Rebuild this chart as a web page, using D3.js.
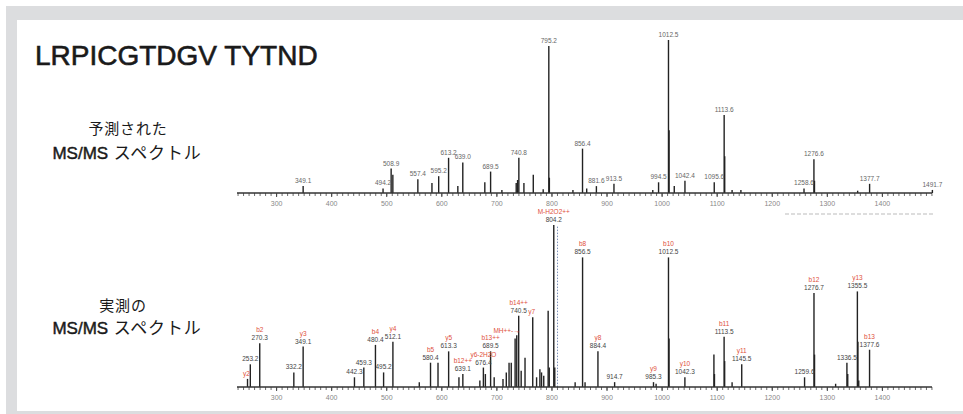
<!DOCTYPE html>
<html>
<head>
<meta charset="utf-8">
<script src="https://cdn.jsdelivr.net/npm/d3@7"></script>
<style>
  body { margin: 0; background: #fff; }
  svg { display: block; }
</style>
</head>
<body>
<div id="chart"></div>
<script>
// predicted spectrum: [m/z, relative intensity, label]
const predictedPeaks = [
  [349.1, 4.5, "349.1"], [494.2, 3, "494.2"], [508.9, 16, "508.9"], [512.0, 12, ""],
  [557.4, 9, "557.4"], [583.0, 6.5, ""], [595.2, 11, "595.2"], [613.2, 23, "613.2"],
  [630.0, 4.5, ""], [639.0, 20, "639.0"], [679.0, 7, ""], [689.5, 14, "689.5"],
  [710.0, 2, ""], [736.0, 6.5, ""], [738.5, 8.5, ""], [740.8, 23, "740.8"],
  [750.0, 6.5, ""], [767.0, 12, ""], [785.0, 2.5, ""], [795.2, 96, "795.2"],
  [796.2, 10, ""], [839.0, 2, ""], [856.4, 29, "856.4"], [864.0, 3, ""],
  [881.6, 4.5, "881.6"], [913.5, 6, "913.5"], [984.0, 2, ""], [994.5, 7, "994.5"],
  [1012.5, 100, "1012.5"], [1013.6, 41, ""], [1023.0, 4.5, ""], [1042.4, 8, "1042.4"],
  [1095.6, 7, "1095.6"], [1113.6, 51, "1113.6"], [1114.6, 24, ""], [1128.0, 2, ""],
  [1144.0, 2, ""], [1258.6, 3, "1258.6"], [1276.6, 22, "1276.6"], [1277.6, 8, ""],
  [1356.0, 1.5, ""], [1377.7, 6, "1377.7"], [1491.7, 2, "1491.7"]
];

// observed spectrum: [m/z, relative intensity, m/z label, ion label]
const observedPeaks = [
  [248.1, 5, "", "y2"], [253.2, 14, "253.2", ""], [270.3, 27, "270.3", "b2"],
  [332.2, 9, "332.2", ""], [349.1, 25, "349.1", "y3"], [442.3, 6, "442.3", ""],
  [459.3, 12, "459.3", ""], [480.4, 26, "480.4", "b4"], [495.2, 9, "495.2", ""],
  [512.1, 28, "512.1", "y4"], [560.0, 3, "", ""], [580.4, 15, "580.4", "b5"],
  [594.0, 15, "", ""], [613.3, 22, "613.3", "y5"], [632.0, 6, "", ""],
  [639.1, 8, "639.1", "b12++"], [670.0, 4, "", ""], [676.4, 12, "676.4", "y6-2H2O"],
  [680.0, 8, "", ""], [689.5, 22, "689.5", "b13++"], [696.0, 6, "", ""],
  [712.0, 5, "", ""], [718.0, 9, "", ""], [723.0, 15, "", ""], [727.0, 15, "", ""],
  [734.0, 30, "", ""], [737.0, 32, "", "MH++-→"], [740.5, 44, "740.5", "b14++"],
  [745.0, 10, "", ""], [752.0, 18, "", ""], [766.0, 43, "", "y7"], [773.0, 6, "", ""],
  [779.0, 11, "", ""], [782.0, 9, "", ""], [786.0, 7, "", ""], [794.0, 47, "", ""],
  [796.0, 12, "", ""], [804.2, 100, "804.2", "M-H2O2++"], [806.0, 12, "", ""],
  [843.0, 3, "", ""], [856.5, 80, "856.5", "b8"], [861.0, 3, "", ""],
  [884.4, 22, "884.4", "y8"], [914.7, 3, "914.7", ""], [985.3, 3, "985.3", "y9"],
  [990.0, 2, "", ""], [1012.5, 80, "1012.5", "b10"], [1013.5, 30, "", ""],
  [1042.3, 6, "1042.3", "y10"], [1095.0, 20, "", ""], [1096.0, 8, "", ""],
  [1113.5, 31, "1113.5", "b11"], [1114.5, 16, "", ""], [1128.0, 3, "", ""],
  [1145.5, 14, "1145.5", "y11"], [1259.6, 6, "1259.6", ""], [1276.7, 58, "1276.7", "b12"],
  [1277.7, 20, "", ""], [1316.0, 2, "", ""], [1336.5, 15, "1336.5", ""],
  [1338.0, 8, "", ""], [1355.5, 59, "1355.5", "y13"], [1356.5, 28, "", ""],
  [1358.0, 4, "", ""], [1377.6, 23, "1377.6", "b13"]
];

const majorTicks = [300, 400, 500, 600, 700, 800, 900, 1000, 1100, 1200, 1300, 1400];
const mzDomain = [229, 1491];
const titleText = "LRPICGTDGV TYTND";
const predictedLabel = ["予測された", "MS/MS", " スペクトル"];
const observedLabel = ["実測の", "MS/MS", " スペクトル"];
const dottedLineMz = 811;

const width = 963, height = 414;
const svg = d3.select("#chart").append("svg")
  .attr("width", width).attr("height", height);

// frame
svg.append("rect").attr("x", 6).attr("y", 6).attr("width", width - 6).attr("height", height - 6)
  .attr("fill", "#dcdddf");
svg.append("rect").attr("x", 17).attr("y", 20).attr("width", width - 17).attr("height", 391)
  .attr("fill", "#fff");

svg.append("text").attr("x", 35).attr("y", 65)
  .attr("font-family", "'Liberation Sans', Arial, sans-serif")
  .attr("font-size", 28).attr("fill", "#1a1a1a")
  .attr("stroke", "#1a1a1a").attr("stroke-width", 0.6)
  .text(titleText);

const x = d3.scaleLinear().domain(mzDomain).range([237, 932]);

function sideLabel(lines, cx1, y1, y2) {
  svg.append("text").attr("x", cx1).attr("y", y1)
    .attr("font-family", "'Noto Sans CJK JP', sans-serif")
    .attr("font-size", 15).attr("letter-spacing", 0.8)
    .attr("fill", "#1a1a1a").attr("text-anchor", "middle")
    .text(lines[0]);
  const t = svg.append("text").attr("x", 127).attr("y", y2)
    .attr("font-family", "'Liberation Sans', 'Noto Sans CJK JP', sans-serif")
    .attr("font-size", 17).attr("fill", "#1a1a1a").attr("text-anchor", "middle");
  t.append("tspan").attr("stroke", "#1a1a1a").attr("stroke-width", 0.45).text(lines[1]);
  t.append("tspan").attr("letter-spacing", 0.8).text(lines[2]);
}
sideLabel(predictedLabel, 128, 134, 159);
sideLabel(observedLabel, 123, 311, 334);

function drawAxis(baseY) {
  const g = svg.append("g").attr("transform", `translate(0,${baseY})`);
  const minor = d3.range(230, 1491, 10);
  g.call(d3.axisBottom(x).tickValues(minor).tickSize(3).tickFormat(""))
    .call(a => a.select(".domain").remove())
    .call(a => a.selectAll(".tick line").attr("stroke", "#444").attr("stroke-width", 0.8));
  g.append("line").attr("x1", x(mzDomain[0])).attr("x2", x(mzDomain[1]))
    .attr("stroke", "#333").attr("stroke-width", 1.3);
  const maj = svg.append("g").attr("transform", `translate(0,${baseY})`);
  maj.call(d3.axisBottom(x).tickValues(majorTicks).tickSize(4).tickPadding(4)
      .tickFormat(d3.format("d")))
    .call(a => a.select(".domain").remove())
    .call(a => a.selectAll(".tick line").attr("stroke", "#444").attr("stroke-width", 1))
    .call(a => a.selectAll(".tick text").attr("fill", "#888")
      .attr("font-size", 7).attr("font-family", "'Liberation Sans Narrow', Arial, sans-serif"));
}

// predicted
const yPred = d3.scaleLinear().domain([0, 100]).range([193, 40]);
const predG = svg.append("g");
predG.selectAll("line").data(predictedPeaks).join("line")
  .attr("x1", d => x(d[0])).attr("x2", d => x(d[0]))
  .attr("y1", yPred(0)).attr("y2", d => yPred(d[1]))
  .attr("stroke", "#222").attr("stroke-width", 1.4);
predG.selectAll("text").data(predictedPeaks.filter(d => d[2])).join("text")
  .attr("x", d => x(d[0])).attr("y", d => yPred(d[1]) - 3)
  .attr("text-anchor", "middle").attr("font-size", 6.5).attr("fill", "#666")
  .attr("font-family", "'Liberation Sans Narrow', Arial, sans-serif")
  .text(d => d[2]);
drawAxis(193);

// faint dashed trace between panels
svg.append("line").attr("x1", 785).attr("x2", 933).attr("y1", 214).attr("y2", 214)
  .attr("stroke", "#aaa").attr("stroke-width", 0.8).attr("stroke-dasharray", "4,2");

// observed
const yObs = d3.scaleLinear().domain([0, 100]).range([387, 225]);
svg.append("line").attr("x1", x(dottedLineMz)).attr("x2", x(dottedLineMz))
  .attr("y1", yObs(99)).attr("y2", yObs(0))
  .attr("stroke", "#6f84b0").attr("stroke-width", 0.9).attr("stroke-dasharray", "1.5,1.5");
const obsG = svg.append("g");
obsG.selectAll("line").data(observedPeaks).join("line")
  .attr("x1", d => x(d[0])).attr("x2", d => x(d[0]))
  .attr("y1", yObs(0)).attr("y2", d => yObs(d[1]))
  .attr("stroke", "#222").attr("stroke-width", 1.4);
obsG.selectAll("text.mz").data(observedPeaks.filter(d => d[2])).join("text")
  .attr("class", "mz")
  .attr("x", d => x(d[0])).attr("y", d => yObs(d[1]) - 3)
  .attr("text-anchor", "middle").attr("font-size", 6.5).attr("fill", "#444")
  .attr("font-family", "'Liberation Sans Narrow', Arial, sans-serif")
  .text(d => d[2]);
const isArrowLabel = d => d[3].startsWith("MH++");
obsG.selectAll("text.ion").data(observedPeaks.filter(d => d[3])).join("text")
  .attr("class", "ion")
  .attr("x", d => x(d[0]) + (isArrowLabel(d) ? 3 : (d[2] ? 0 : -1)))
  .attr("y", d => yObs(d[1]) - (d[2] ? 11 : (isArrowLabel(d) ? 2 : 3)))
  .attr("text-anchor", d => isArrowLabel(d) ? "end" : "middle")
  .attr("font-size", 6.5).attr("fill", "#e0503c")
  .attr("font-family", "'Liberation Sans Narrow', Arial, sans-serif")
  .text(d => d[3]);
drawAxis(387);
</script>
</body>
</html>
